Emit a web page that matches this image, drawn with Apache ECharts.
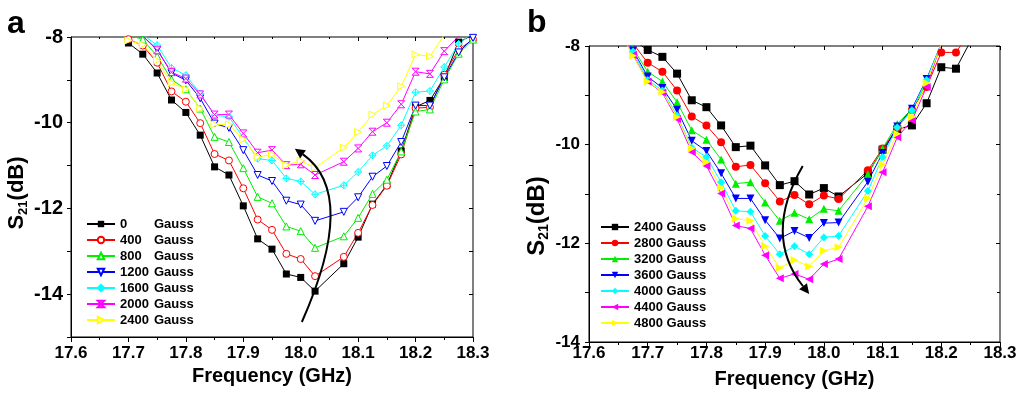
<!DOCTYPE html>
<html><head><meta charset="utf-8">
<script src="https://cdn.jsdelivr.net/npm/echarts@6/dist/echarts.min.js"></script>
<style>html,body{margin:0;padding:0;background:#fff}#c{width:1020px;height:394px}</style>
</head><body><div id="c"></div>
<script>
// ---------- DATA ----------
const xTicks = [17.6, 17.7, 17.8, 17.9, 18.0, 18.1, 18.2, 18.3];
const yTicksA = [-14, -12, -10, -8];
const yTicksB = [-14, -12, -10, -8];

const freqA = [17.7,17.725,17.75,17.775,17.8,17.825,17.85,17.875,17.9,17.925,17.95,17.975,18.0,18.025,18.075,18.1,18.125,18.15,18.175,18.2,18.225,18.25,18.275,18.3];
const namesA = ['0 Gauss','400 Gauss','800 Gauss','1200 Gauss','1600 Gauss','2000 Gauss','2400 Gauss'];
const a0    = [-8.14,-8.40,-8.84,-9.47,-9.76,-10.29,-11.03,-11.22,-11.94,-12.71,-12.95,-13.53,-13.61,-13.93,-13.29,-12.67,-11.90,-11.45,-10.66,-9.63,-9.48,-8.94,-8.12,-7.95];
const a400  = [-8.05,-8.20,-8.60,-9.27,-9.51,-10.01,-10.73,-10.88,-11.53,-12.26,-12.50,-13.06,-13.18,-13.58,-13.13,-12.57,-11.92,-11.47,-10.74,-9.66,-9.64,-8.88,-8.29,-8.06];
const a800  = [-7.95,-8.06,-8.45,-8.99,-9.22,-9.67,-10.33,-10.45,-11.06,-11.73,-11.88,-12.42,-12.53,-12.92,-12.65,-12.22,-11.66,-11.33,-10.67,-9.74,-9.69,-8.99,-8.39,-8.06];
const a1200 = [-7.90,-7.98,-8.29,-8.84,-9.01,-9.43,-10.02,-10.12,-10.64,-11.22,-11.36,-11.82,-11.91,-12.29,-12.08,-11.74,-11.26,-11.01,-10.45,-9.60,-9.60,-8.94,-8.36,-8.02];
const a1600 = [-7.85,-7.95,-8.19,-8.72,-8.89,-9.32,-9.83,-9.86,-10.35,-10.84,-10.88,-11.30,-11.37,-11.67,-11.46,-11.15,-10.76,-10.54,-10.06,-9.29,-9.26,-8.70,-8.16,-7.90];
const a2000 = [-7.85,-7.98,-8.31,-8.82,-8.97,-9.34,-9.81,-9.81,-10.25,-10.70,-10.64,-10.99,-10.97,-11.22,-10.91,-10.60,-10.21,-10.00,-9.57,-8.81,-8.86,-8.33,-7.98,-7.70];
const a2400 = [-8.08,-8.18,-8.55,-9.07,-9.22,-9.67,-10.04,-10.04,-10.39,-10.80,-10.74,-10.99,-10.89,-11.05,-10.58,-10.22,-9.81,-9.60,-9.15,-8.41,-8.45,-7.95,-7.60,-7.30];

const freqB = [17.65,17.675,17.7,17.725,17.75,17.775,17.8,17.825,17.85,17.875,17.9,17.925,17.95,17.975,18.0,18.025,18.075,18.1,18.125,18.15,18.175,18.2,18.225,18.25];
// non-breaking space keeps these names distinct from panel a's "2400 Gauss"
const namesB = ['2400\u00a0Gauss','2800\u00a0Gauss','3200\u00a0Gauss','3600\u00a0Gauss','4000\u00a0Gauss','4400\u00a0Gauss','4800\u00a0Gauss'];
const b2400 = [-7.50,-7.88,-8.08,-8.22,-8.56,-9.10,-9.24,-9.61,-10.05,-10.02,-10.42,-10.82,-10.74,-11.01,-10.88,-11.05,-10.58,-10.10,-9.69,-9.61,-9.16,-8.43,-8.46,-7.90];
const b2800 = [-7.50,-7.95,-8.34,-8.52,-8.90,-9.43,-9.61,-9.95,-10.45,-10.41,-10.78,-11.15,-11.02,-11.21,-11.03,-11.10,-10.52,-10.08,-9.66,-9.29,-8.83,-8.13,-8.13,-7.70];
const b3200 = [-7.60,-8.05,-8.52,-8.72,-9.14,-9.71,-9.90,-10.30,-10.79,-10.76,-11.17,-11.54,-11.38,-11.51,-11.30,-11.34,-10.60,-10.08,-9.58,-9.28,-8.75,-7.95,null,null];
const b3600 = [-7.60,-8.09,-8.62,-8.85,-9.29,-9.92,-10.13,-10.58,-11.09,-11.09,-11.53,-11.90,-11.75,-11.89,-11.59,-11.58,-10.75,-10.17,-9.63,-9.27,-8.67,-7.95,null,null];
const b4000 = [-7.60,-8.11,-8.69,-8.90,-9.41,-10.06,-10.25,-10.76,-11.34,-11.36,-11.85,-12.22,-12.06,-12.22,-11.88,-11.85,-10.94,-10.25,-9.65,-9.30,-8.69,-7.95,null,null];
const b4400 = [-7.65,-8.18,-8.72,-8.95,-9.48,-10.15,-10.43,-10.99,-11.64,-11.70,-12.24,-12.71,-12.62,-12.73,-12.42,-12.32,-11.25,-10.56,-9.85,-9.51,-8.83,-7.95,null,null];
const b4800 = [-7.65,-8.20,-8.72,-8.93,-9.44,-10.08,-10.35,-10.87,-11.50,-11.54,-12.06,-12.50,-12.34,-12.47,-12.15,-12.08,-11.09,-10.40,-9.78,-9.44,-8.75,-7.95,null,null];

// arrows (data coordinates): start, a point on the curve, end
const arrowA = [[18.002,-14.65],[18.052,-12.18],[18.004,-10.74]];
const arrowB = [[17.964,-10.43],[17.930,-11.74],[17.9645,-12.87]];

// ---------- STYLE ----------
const FONT = '"Liberation Sans", Arial, sans-serif';
const colors = ['#000000','#ff0000','#00ee00','#0000ff','#00ffff','#ff00ff','#ffff00'];
const P = {
  invTri: 'path://M0,0L10,0L5,9Z',
  rightTri: 'path://M0,0L9,5L0,10Z',
  leftTri: 'path://M9,0L0,5L9,10Z',
  diaCross: 'path://M5,0L10,5L5,10L0,5Z M5,0L5,10 M0,5L10,5',
  hourglass: 'path://M0,0L10,0L0,10L10,10Z'
};
const symA = ['rect','circle','triangle',P.invTri,P.diaCross,P.hourglass,P.rightTri];
const filledA = [true,false,false,false,false,false,false];
const symB = ['rect','circle','triangle',P.invTri,'diamond',P.leftTri,P.rightTri];

function pairs(fr, vals){ return fr.map((f,i)=>[f, vals[i]]).filter(p=>p[1]!=null); }

function mkSeries(name, fr, vals, i, sym, filled, xi, yi, size){
  const c = colors[i];
  return {
    name, type:'line', xAxisIndex:xi, yAxisIndex:yi, data:pairs(fr, vals),
    symbol:sym, symbolSize:size, color:c, clip:true, animation:false,
    lineStyle:{color:c, width:1},
    itemStyle: filled ? {color:c, borderColor:c, borderWidth:0} : {color:'#fff', borderColor:c, borderWidth:1},
    emphasis:{disabled:true}
  };
}
const valsA = [a0,a400,a800,a1200,a1600,a2000,a2400];
const valsB = [b2400,b2800,b3200,b3600,b4000,b4400,b4800];
const series = [];
valsA.forEach((v,i)=>series.push(mkSeries(namesA[i], freqA, v, i, symA[i], filledA[i], 0, 0, 7)));
valsB.forEach((v,i)=>series.push(mkSeries(namesB[i], freqB, v, i, symB[i], true, 2, 2, 8)));

const lbl = {color:'#000', fontWeight:'bold', fontFamily:FONT};
function xMain(gi, margin){
  return {gridIndex:gi, type:'value', position:'bottom', min:17.6, max:18.3, interval:0.1,
    axisLine:{show:true, onZero:false, lineStyle:{color:'#000', width:1}},
    axisTick:{show:true, length:5, lineStyle:{color:'#000'}},
    minorTick:{show:true, splitNumber:2, length:3, lineStyle:{color:'#000'}},
    splitLine:{show:false}, minorSplitLine:{show:false},
    axisLabel:Object.assign({fontSize:17, margin:margin, formatter:v=>v.toFixed(1)}, lbl),
    name:'Frequency (GHz)', nameLocation:'middle', nameGap:27,
    nameTextStyle:Object.assign({fontSize:20}, lbl)};
}
function xTop(gi){
  return {gridIndex:gi, type:'value', position:'top', min:17.6, max:18.3, interval:0.1,
    axisLine:{show:false}, axisLabel:{show:false}, splitLine:{show:false},
    axisTick:{show:true, inside:true, length:4, lineStyle:{color:'#000'}},
    minorTick:{show:true, splitNumber:2, length:2, lineStyle:{color:'#000'}}};
}
function yName(fs, sub, pad, gap){
  return {name:'{s|S}{sub|21}{s|(dB)}', nameLocation:'middle', nameGap:gap, nameRotate:90,
    nameTextStyle:{padding:pad, rich:{
      s:{fontSize:fs, fontWeight:'bold', fontFamily:FONT, color:'#000'},
      sub:{fontSize:sub, fontWeight:'bold', fontFamily:FONT, color:'#000', padding:[Math.round(fs*0.6),0,0,0]}}}};
}
const yAxis = [
  Object.assign({gridIndex:0, type:'value', min:-15, max:-8, interval:1,
    axisLine:{show:true, onZero:false, lineStyle:{color:'#000'}},
    axisTick:{show:true, length:4, lineStyle:{color:'#000'}},
    splitLine:{show:false},
    axisLabel:Object.assign({fontSize:20, margin:8, formatter:v=> (yTicksA.indexOf(v)>=0 ? String(v) : '')}, lbl)},
    yName(22, 13, [0,12,0,0], 30)),
  {gridIndex:0, type:'value', position:'right', min:-15, max:-8, interval:1,
    axisLine:{show:false}, axisLabel:{show:false}, splitLine:{show:false},
    axisTick:{show:true, inside:true, length:4, lineStyle:{color:'#000'}}},
  Object.assign({gridIndex:1, type:'value', min:-14, max:-8, interval:2,
    axisLine:{show:true, onZero:false, lineStyle:{color:'#000'}},
    axisTick:{show:true, length:4, lineStyle:{color:'#000'}},
    minorTick:{show:true, splitNumber:2, length:4, lineStyle:{color:'#000'}},
    splitLine:{show:false}, minorSplitLine:{show:false},
    axisLabel:Object.assign({fontSize:17, margin:9, formatter:v=> (yTicksB.indexOf(v)>=0 ? String(v) : '')}, lbl)},
    yName(24, 14, [0,44,0,0], 37)),
  {gridIndex:1, type:'value', position:'right', min:-14, max:-8, interval:2,
    axisLine:{show:false}, axisLabel:{show:false}, splitLine:{show:false},
    axisTick:{show:true, inside:true, length:4, lineStyle:{color:'#000'}},
    minorTick:{show:true, splitNumber:2, length:3, lineStyle:{color:'#000'}}}
];

const legendCommon = {orient:'vertical', itemWidth:28, itemHeight:8, itemGap:0,
  textStyle:{fontSize:13, fontWeight:'bold', fontFamily:FONT, color:'#000', lineHeight:16},
  selectedMode:false, inactiveColor:'#000'};

const option = {
  animation:false,
  backgroundColor:'#fff',
  grid:[
    {left:71, top:37, width:402, height:300, show:true, borderColor:'#000', borderWidth:1, backgroundColor:'transparent'},
    {left:589, top:46, width:411, height:298, show:true, borderColor:'#000', borderWidth:1, backgroundColor:'transparent'}
  ],
  xAxis:[xMain(0,8), xTop(0), xMain(1,3), xTop(1)],
  yAxis:yAxis,
  legend:[
    Object.assign({}, legendCommon, {data:namesA, left:81, top:211,
      formatter:n=>{const p=n.split(' '); return '{n|'+p[0]+'}{g|'+p[1]+'}';},
      textStyle:Object.assign({}, legendCommon.textStyle, {rich:{
        n:{width:34, fontSize:13, fontWeight:'bold', fontFamily:FONT, color:'#000', lineHeight:16},
        g:{fontSize:13, fontWeight:'bold', fontFamily:FONT, color:'#000', lineHeight:16}}})}),
    Object.assign({}, legendCommon, {data:namesB, left:595, top:214})
  ],
  series:series,
  graphic:[
    {type:'text', x:7, y:8, style:{text:'a', font:'bold 32px '+FONT, fill:'#000', verticalAlign:'top'}},
    {type:'text', x:527, y:7, style:{text:'b', font:'bold 32px '+FONT, fill:'#000', verticalAlign:'top'}}
  ]
};

const chart = echarts.init(document.getElementById('c'), null, {renderer:'canvas'});
chart.setOption(option);

function arrowGraphics(pts, sIdx){
  const p0 = chart.convertToPixel({seriesIndex:sIdx}, pts[0]);
  const m  = chart.convertToPixel({seriesIndex:sIdx}, pts[1]);
  const p2 = chart.convertToPixel({seriesIndex:sIdx}, pts[2]);
  const c = [2*m[0]-(p0[0]+p2[0])/2, 2*m[1]-(p0[1]+p2[1])/2];
  let ux = p2[0]-c[0], uy = p2[1]-c[1];
  const L = Math.hypot(ux,uy); ux/=L; uy/=L;
  const nx = -uy, ny = ux;
  const tip = [p2[0]+ux*10, p2[1]+uy*10];
  return [
    {type:'bezierCurve', shape:{x1:p0[0], y1:p0[1], x2:p2[0], y2:p2[1], cpx1:c[0], cpy1:c[1]},
     style:{stroke:'#000', lineWidth:2, fill:null}, z:100},
    {type:'polygon', shape:{points:[tip, [p2[0]+nx*5, p2[1]+ny*5], [p2[0]-nx*5, p2[1]-ny*5]]},
     style:{fill:'#000'}, z:100}
  ];
}
const g = option.graphic.concat(arrowGraphics(arrowA, 0), arrowGraphics(arrowB, 7));
chart.setOption({graphic:g});
</script></body></html>
